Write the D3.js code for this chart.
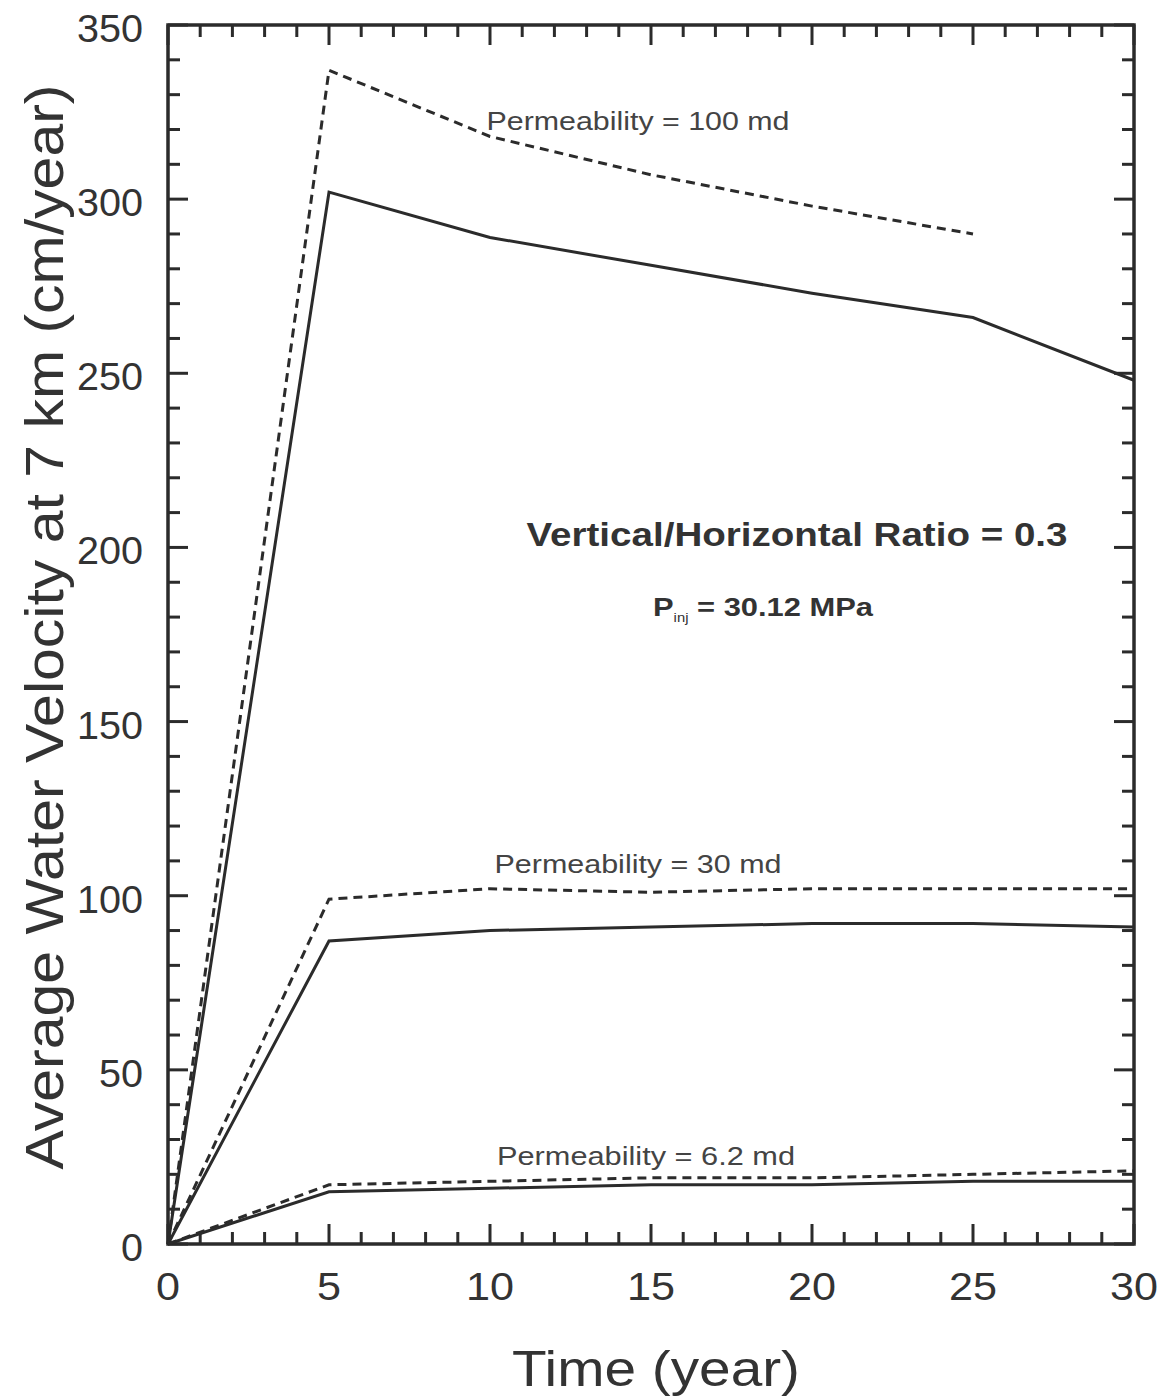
<!DOCTYPE html>
<html>
<head>
<meta charset="utf-8">
<script src="https://cdn.jsdelivr.net/npm/d3@7"></script>
<style>
  body { margin: 0; background: #fff; }
  svg { font-family: "Liberation Sans", Arial, sans-serif; }
</style>
</head>
<body>
<div id="graph"></div>
<script>
// Valeurs (temps en années, vitesse en cm/an)
const years = [0, 5, 10, 15, 20, 25, 30];
const k100Dashed = [0, 337, 318, 307, 298, 290];
const k100Solid = [0, 302, 289, 281, 273, 266, 248];
const k30Dashed = [0, 99, 102, 101, 102, 102, 102];
const k30Solid = [0, 87, 90, 91, 92, 92, 91];
const k6Dashed = [0, 17, 18, 19, 19, 20, 21];
const k6Solid = [0, 15, 16, 17, 17, 18, 18];

const xTicks = [0, 5, 10, 15, 20, 25, 30];
const yTicks = [0, 50, 100, 150, 200, 250, 300, 350];

const series = [
  { values: k100Dashed, dashed: true },
  { values: k100Solid, dashed: false },
  { values: k30Dashed, dashed: true },
  { values: k30Solid, dashed: false },
  { values: k6Dashed, dashed: true },
  { values: k6Solid, dashed: false }
];

const width = 1166;
const height = 1397;
const marginTop = 25;
const marginRight = 32;
const marginBottom = 153;
const marginLeft = 168;
const ink = "#2b2b2b";

const x = d3.scaleLinear().domain([0, 30]).range([marginLeft, width - marginRight]);
const y = d3.scaleLinear().domain([0, 350]).range([height - marginBottom, marginTop]);

const svg = d3.create("svg")
    .attr("width", width)
    .attr("height", height);

// Graduations mineures et majeures, tournées vers l'intérieur sur les quatre côtés
const minorX = d3.range(0, 31, 1);
const minorY = d3.range(0, 351, 10);
const tickG = svg.append("g").attr("stroke", ink).attr("stroke-width", 3);

tickG.selectAll(".xb").data(minorX).join("line")
    .attr("x1", d => x(d)).attr("x2", d => x(d))
    .attr("y1", y(0)).attr("y2", d => y(0) - (d % 5 === 0 ? 20 : 12));
tickG.selectAll(".xt").data(minorX).join("line")
    .attr("x1", d => x(d)).attr("x2", d => x(d))
    .attr("y1", y(350)).attr("y2", d => y(350) + (d % 5 === 0 ? 20 : 12));
tickG.selectAll(".yl").data(minorY).join("line")
    .attr("y1", d => y(d)).attr("y2", d => y(d))
    .attr("x1", x(0)).attr("x2", d => x(0) + (d % 50 === 0 ? 20 : 12));
tickG.selectAll(".yr").data(minorY).join("line")
    .attr("y1", d => y(d)).attr("y2", d => y(d))
    .attr("x1", x(30)).attr("x2", d => x(30) - (d % 50 === 0 ? 20 : 12));

// Cadre
svg.append("rect")
    .attr("x", x(0)).attr("y", y(350))
    .attr("width", x(30) - x(0)).attr("height", y(0) - y(350))
    .attr("fill", "none").attr("stroke", ink).attr("stroke-width", 3.5);

// Étiquettes des axes (police un peu étirée comme sur l'original)
svg.append("g").selectAll("text").data(xTicks).join("text")
    .attr("x", d => x(d)).attr("y", y(0) + 56)
    .attr("text-anchor", "middle").attr("font-size", 38).attr("fill", "#333")
    .attr("textLength", d => String(d).length * 24).attr("lengthAdjust", "spacingAndGlyphs")
    .text(d => d);
svg.append("g").selectAll("text").data(yTicks).join("text")
    .attr("x", x(0) - 25).attr("y", d => y(d) + 17)
    .attr("text-anchor", "end").attr("font-size", 38).attr("fill", "#333")
    .attr("textLength", d => String(d).length * 22).attr("lengthAdjust", "spacingAndGlyphs")
    .text(d => d);

svg.append("text")
    .attr("x", 656).attr("y", 1386)
    .attr("text-anchor", "middle").attr("font-size", 50).attr("fill", "#333")
    .attr("textLength", 288).attr("lengthAdjust", "spacingAndGlyphs")
    .text("Time (year)");
svg.append("text")
    .attr("transform", `translate(63,627) rotate(-90)`)
    .attr("text-anchor", "middle").attr("font-size", 54).attr("fill", "#333")
    .attr("textLength", 1085).attr("lengthAdjust", "spacingAndGlyphs")
    .text("Average Water Velocity at 7 km (cm/year)");

// Courbes
const line = d3.line()
    .x((d, i) => x(years[i]))
    .y(d => y(d));

svg.append("g").selectAll("path").data(series).join("path")
    .attr("fill", "none")
    .attr("stroke", ink)
    .attr("stroke-width", 3)
    .attr("stroke-dasharray", d => d.dashed ? "9,6" : null)
    .attr("d", d => line(d.values));

// Annotations
const notes = [
  { t: "Permeability = 100 md", x: 638, y: 130, w: 303 },
  { t: "Permeability = 30 md", x: 638, y: 873, w: 287 },
  { t: "Permeability = 6.2 md", x: 646, y: 1165, w: 298 }
];
svg.append("g").selectAll("text").data(notes).join("text")
    .attr("x", d => d.x).attr("y", d => d.y)
    .attr("text-anchor", "middle").attr("font-size", 25).attr("fill", "#444")
    .attr("textLength", d => d.w).attr("lengthAdjust", "spacingAndGlyphs")
    .text(d => d.t);

svg.append("text")
    .attr("x", 797).attr("y", 546)
    .attr("text-anchor", "middle").attr("font-size", 33).attr("font-weight", "bold").attr("fill", "#333")
    .attr("textLength", 541).attr("lengthAdjust", "spacingAndGlyphs")
    .text("Vertical/Horizontal Ratio = 0.3");

const p = svg.append("text")
    .attr("x", 653).attr("y", 616)
    .attr("font-size", 25).attr("font-weight", "bold").attr("fill", "#333")
    .attr("textLength", 220).attr("lengthAdjust", "spacingAndGlyphs");
p.append("tspan").text("P");
p.append("tspan").attr("font-size", 12).attr("dy", 6).attr("font-weight", "normal").text("inj");
p.append("tspan").attr("dy", -6).text(" = 30.12 MPa");

document.getElementById("graph").appendChild(svg.node());
</script>
</body>
</html>
